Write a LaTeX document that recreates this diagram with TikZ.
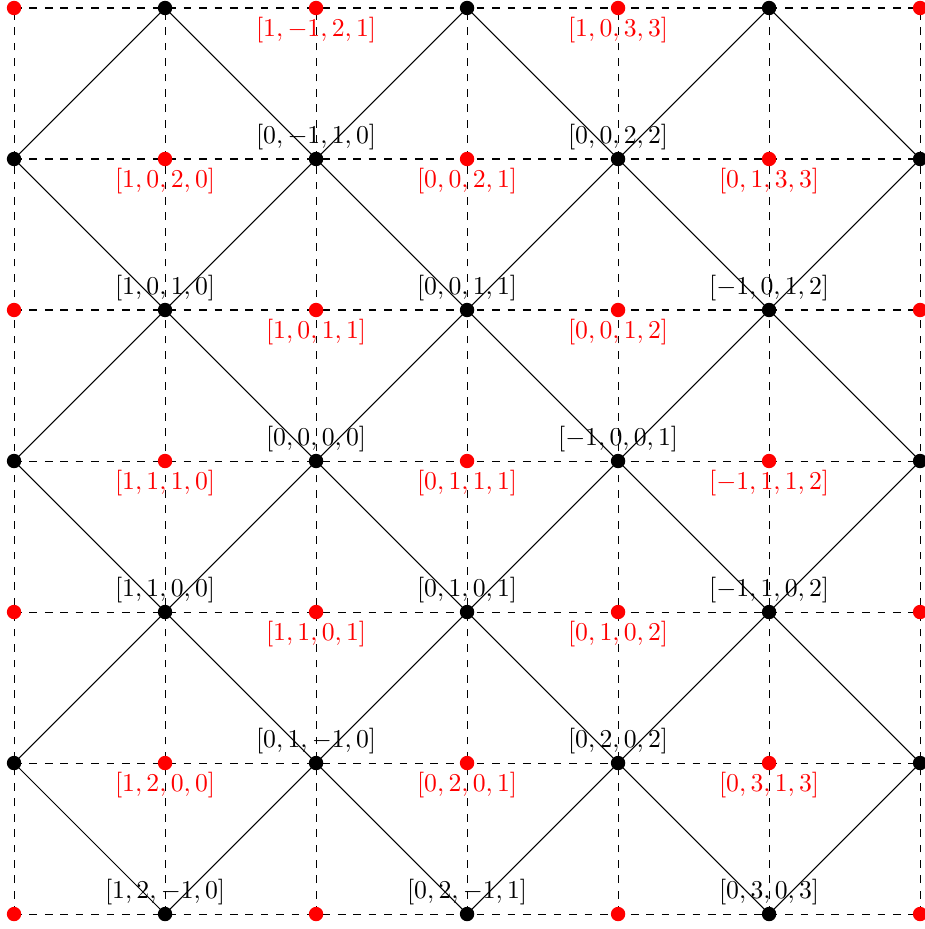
\documentclass[tikz,border=0pt]{standalone}
\usepackage{amsmath,amssymb}
\usepackage{xcolor}
\usepackage{tikz}
\definecolor{ptred}{HTML}{FF0000}
\tikzset{grd/.style={dashed},
  blk/.style={circle,fill=black,inner sep=0pt,minimum size=5.6pt},
  rdot/.style={circle,fill=ptred,inner sep=0pt,minimum size=5.6pt},
  blab/.style={above,text=black},
  rlab/.style={below,text=ptred}}

\begin{document}
\begin{tikzpicture}[x=2.065cm,y=2.065cm]
\useasboundingbox (-0.093,-0.099) rectangle (6.026,6.053);
\foreach \i in {0,...,6} {\foreach \j in {0,...,6} {\coordinate (v-\i-\j) at (\i,\j);}}
\foreach \k in {0,...,6} {\draw[grd] (v-0-\k)--(v-6-\k); \draw[grd] (v-\k-0)--(v-\k-6);}
\foreach \a/\b in {0-1/1-0,0-3/3-0,0-5/5-0,1-6/6-1,3-6/6-3,5-6/6-5,0-5/1-6,0-3/3-6,0-1/5-6,1-0/6-5,3-0/6-3,5-0/6-1} \draw (v-\a)--(v-\b);
\foreach \i in {0,...,6} {\foreach \j in {0,...,6} {\ifodd\numexpr\i+\j\relax \node[blk] (d-\i-\j) at (v-\i-\j) {};\else \node[rdot] (d-\i-\j) at (v-\i-\j) {};\fi}}
\node[blab] (b-2-5) at (v-2-5) {$[0,-1,1,0]$}; \node[blab] (b-4-5) at (v-4-5) {$[0,0,2,2]$};
\node[blab] (b-1-4) at (v-1-4) {$[1,0,1,0]$}; \node[blab] (b-3-4) at (v-3-4) {$[0,0,1,1]$}; \node[blab] (b-5-4) at (v-5-4) {$[-1,0,1,2]$};
\node[blab] (b-2-3) at (v-2-3) {$[0,0,0,0]$}; \node[blab] (b-4-3) at (v-4-3) {$[-1,0,0,1]$};
\node[blab] (b-1-2) at (v-1-2) {$[1,1,0,0]$}; \node[blab] (b-3-2) at (v-3-2) {$[0,1,0,1]$}; \node[blab] (b-5-2) at (v-5-2) {$[-1,1,0,2]$};
\node[blab] (b-2-1) at (v-2-1) {$[0,1,-1,0]$}; \node[blab] (b-4-1) at (v-4-1) {$[0,2,0,2]$};
\node[blab] (b-1-0) at (v-1-0) {$[1,2,-1,0]$}; \node[blab] (b-3-0) at (v-3-0) {$[0,2,-1,1]$}; \node[blab] (b-5-0) at (v-5-0) {$[0,3,0,3]$};
\node[rlab] (r-2-6) at (v-2-6) {$[1,-1,2,1]$}; \node[rlab] (r-4-6) at (v-4-6) {$[1,0,3,3]$};
\node[rlab] (r-1-5) at (v-1-5) {$[1,0,2,0]$}; \node[rlab] (r-3-5) at (v-3-5) {$[0,0,2,1]$}; \node[rlab] (r-5-5) at (v-5-5) {$[0,1,3,3]$};
\node[rlab] (r-2-4) at (v-2-4) {$[1,0,1,1]$}; \node[rlab] (r-4-4) at (v-4-4) {$[0,0,1,2]$};
\node[rlab] (r-1-3) at (v-1-3) {$[1,1,1,0]$}; \node[rlab] (r-3-3) at (v-3-3) {$[0,1,1,1]$}; \node[rlab] (r-5-3) at (v-5-3) {$[-1,1,1,2]$};
\node[rlab] (r-2-2) at (v-2-2) {$[1,1,0,1]$}; \node[rlab] (r-4-2) at (v-4-2) {$[0,1,0,2]$};
\node[rlab] (r-1-1) at (v-1-1) {$[1,2,0,0]$}; \node[rlab] (r-3-1) at (v-3-1) {$[0,2,0,1]$}; \node[rlab] (r-5-1) at (v-5-1) {$[0,3,1,3]$};
\end{tikzpicture}
\end{document}
